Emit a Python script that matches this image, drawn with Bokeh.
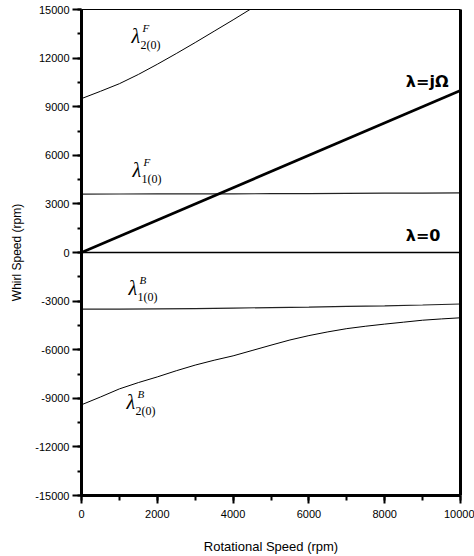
from bokeh.plotting import figure
from bokeh.models import Range1d, LinearAxis, FixedTicker, SingleIntervalTicker
from bokeh.core.properties import value
from bokeh.embed import file_html
from bokeh.resources import INLINE

# ---- data ----
rpm = [0, 1000, 2000, 3000, 4000, 5000, 6000, 7000, 8000, 9000, 10000]
rpm_fine = [0, 500, 1000, 1500, 2000, 2500, 3000, 3500, 4000, 4500, 5000,
            5500, 6000, 6500, 7000, 7500, 8000, 8500, 9000, 9500, 10000]
lam2F_rpm = [0, 500, 1000, 1500, 2000, 2500, 3000, 3500, 4000, 4500, 5000]
lam2F = [9500, 9950, 10420, 10990, 11620, 12280, 12960, 13660, 14360, 15080, 15800]
lam1F = [3600, 3610, 3615, 3620, 3625, 3630, 3640, 3650, 3660, 3670, 3680]
lam1B = [-3500, -3495, -3480, -3460, -3430, -3400, -3370, -3330, -3290, -3240, -3180]
lam2B = [-9400, -8920, -8420, -8030, -7680, -7300, -6950, -6650, -6380, -6050,
         -5720, -5400, -5130, -4900, -4700, -4550, -4420, -4300, -4180, -4100, -4030]
sync_rpm = [0, 10000]
sync_whirl = [0, 10000]
zero_rpm = [0, 10000]
zero_whirl = [0, 0]
y_tick_values = [-15000, -12000, -9000, -6000, -3000]

# curve label anchors (data coords) and texts
lab_x = [1319, 1346, 1240, 1187]
lab_y = [13395, 5123, -2222, -9259]
lab_sup = ["F", "F", "B", "B"]
lab_sub = ["2(0)", "1(0)", "1(0)", "2(0)"]

X_TICK = 2000
Y_TICK = 3000

p = figure(width=474, height=556, output_backend="svg", toolbar_location=None,
           x_range=Range1d(0, 10000), y_range=Range1d(-15000, 15000),
           min_border_left=81, min_border_right=14, min_border_top=9,
           min_border_bottom=61)
p.background_fill_color = "white"
p.border_fill_color = "white"
p.outline_line_color = None
p.xgrid.visible = False
p.ygrid.visible = False

for ax in (p.xaxis[0], p.yaxis[0]):
    ax.axis_line_width = 3
    ax.axis_line_color = "black"
    ax.major_tick_line_width = 2
    ax.minor_tick_line_width = 2
    ax.major_tick_in = 0
    ax.minor_tick_in = 0
    ax.major_label_text_font = "Liberation Sans"
    ax.major_label_text_font_size = "11px"
    ax.major_label_text_color = "black"
    ax.axis_label_text_font = "Liberation Sans"
    ax.axis_label_text_font_style = "normal"
    ax.axis_label_text_color = "black"

p.xaxis.ticker = SingleIntervalTicker(interval=X_TICK, num_minor_ticks=2)
p.yaxis.ticker = SingleIntervalTicker(interval=Y_TICK, num_minor_ticks=2)
p.yaxis.major_label_overrides = {v: "-" + str(abs(v)) for v in y_tick_values}
p.xaxis.major_tick_out = 8
p.xaxis.minor_tick_out = 5
p.yaxis.major_tick_out = 9
p.yaxis.minor_tick_out = 4
p.xaxis.major_label_standoff = 6
p.yaxis.major_label_standoff = 3
p.xaxis.axis_label = "Rotational Speed (rpm)"
p.xaxis.axis_label_text_font_size = "13px"
p.xaxis.axis_label_standoff = 18
p.yaxis.axis_label = "Whirl Speed (rpm)"
p.yaxis.axis_label_text_font_size = "12px"
p.yaxis.axis_label_standoff = 8

right = LinearAxis(ticker=FixedTicker(ticks=[]), axis_line_width=3,
                   major_label_text_font_size="0px", major_tick_line_color=None,
                   minor_tick_line_color=None)
p.add_layout(right, "right")
top = LinearAxis(ticker=FixedTicker(ticks=[]), axis_line_width=1,
                 major_label_text_font_size="0px", major_tick_line_color=None,
                 minor_tick_line_color=None)
p.add_layout(top, "above")

# curves
p.line(rpm, lam1F, line_color="#222222", line_width=1.2)
p.line(zero_rpm, zero_whirl, line_color="black", line_width=1.4)
p.line(rpm, lam1B, line_color="#222222", line_width=1.2)
p.line(lam2F_rpm, lam2F, line_color="black", line_width=1)
p.line(rpm_fine, lam2B, line_color="black", line_width=1)
p.line(sync_rpm, sync_whirl, line_color="black", line_width=2.7)

# curve labels
p.text(x=lab_x, y=lab_y, text=["λ"] * 4, text_font=value("Liberation Serif"),
       text_font_style="italic", text_font_size="20px", text_baseline="middle",
       text_align="left", text_color="black")
p.text(x=lab_x, y=lab_y, text=lab_sup, text_font=value("Liberation Serif"),
       text_font_style="italic", text_font_size="11px", text_baseline="middle",
       text_align="left", text_color="black", x_offset=11, y_offset=-8)
p.text(x=lab_x, y=lab_y, text=lab_sub, text_font=value("Liberation Serif"),
       text_font_size="12px", text_baseline="middle",
       text_align="left", text_color="black", x_offset=9, y_offset=9)

# line labels
p.text(x=[9683, 9472], y=[10556, 1049], text=["λ=jΩ", "λ=0"],
       text_font=value("DejaVu Sans"), text_font_style="bold",
       text_font_size="16px", text_baseline="middle", text_align="right",
       text_color="black")

open("out.html", "w").write(file_html(p, INLINE))
